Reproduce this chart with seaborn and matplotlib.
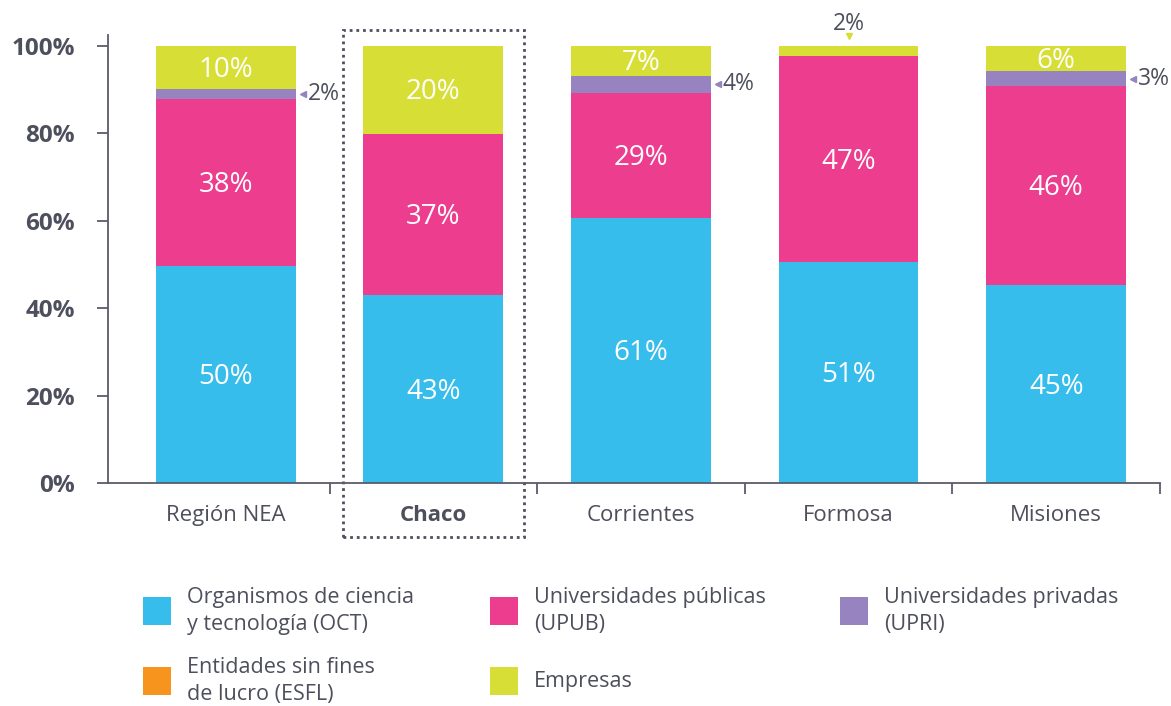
import matplotlib
matplotlib.use("Agg")
import matplotlib.pyplot as plt
from matplotlib.patches import Rectangle
import seaborn as sns
import numpy as np

# ---- data ----
regions = ["Región NEA", "Chaco", "Corrientes", "Formosa", "Misiones"]
series_names = ["Organismos de ciencia\ny tecnología (OCT)",
                "Universidades públicas\n(UPUB)",
                "Universidades privadas\n(UPRI)",
                "Entidades sin fines\nde lucro (ESFL)",
                "Empresas"]
oct_vals = [49.6, 43.0, 60.6, 50.6, 45.2]
upub_vals = [38.3, 36.9, 28.6, 47.0, 45.6]
upri_vals = [2.2, 0.0, 4.0, 0.0, 3.4]
esfl_vals = [0.0, 0.0, 0.0, 0.0, 0.0]
emp_vals = [9.9, 20.1, 6.8, 2.4, 5.8]
yticks = [0, 20, 40, 60, 80, 100]

colors = ["#37BDEC", "#EC3D8E", "#9683C0", "#F7941E", "#D7DF36"]
TXT = "#4D4F5C"
SPINE = "#5B5C68"

sns.set_theme(style="white")
plt.rcParams["font.family"] = ["Open Sans", "DejaVu Sans"]

W, H = 1171, 706
fig = plt.figure(figsize=(W / 100, H / 100), dpi=100)
ax = fig.add_axes([108 / W, 1 - 483 / H, (1160 - 108) / W, (483 - 35) / H])

series = [oct_vals, upub_vals, upri_vals, esfl_vals, emp_vals]
data = np.array(series)
cum = np.cumsum(data, axis=0)
bw = 0.673

# draw cumulative bars from top to bottom
for k in range(len(series) - 1, -1, -1):
    sns.barplot(x=regions, y=cum[k], color=colors[k], saturation=1,
                width=bw, ax=ax, linewidth=0, errorbar=None)

ax.set_xlim(-0.567, 4.5)
ax.set_ylim(0, 102.5)

# inside labels
for k in range(len(series)):
    for i in range(len(regions)):
        v = data[k, i]
        if v >= 5:
            mid = cum[k, i] - v / 2
            ax.text(i, mid - 0.6, f"{v:.0f}%", ha="center", va="center",
                    color="white", fontsize=20)

# outside labels for small UPRI segments
for i in range(len(regions)):
    v = upri_vals[i]
    if v >= 1:
        mid = cum[2, i] - v / 2
        ax.plot(i + bw / 2 + 0.035, mid, marker="<", color=colors[2],
                markersize=5, clip_on=False, linestyle="none")
        ax.text(i + bw / 2 + 0.058, mid, f"{v:.0f}%", ha="left", va="center",
                color=TXT, fontsize=16.5)

# Formosa empresas label above
i = 3
ax.plot(i, 102.3, marker="v", color=colors[4], markersize=5, clip_on=False,
        linestyle="none")
ax.text(i, 105.0, f"{emp_vals[i]:.0f}%", ha="center", va="center",
        color=TXT, fontsize=16.5, clip_on=False)

# axes styling
sns.despine(ax=ax)
for s in ["left", "bottom"]:
    ax.spines[s].set_color(SPINE)
    ax.spines[s].set_linewidth(1.3)
ax.set_yticks(yticks)
ax.set_yticklabels([f"{t}%" for t in yticks])
ax.tick_params(axis="y", length=8, width=1.3, color=SPINE, pad=16,
               labelsize=17.5, labelcolor=TXT, left=True)
for lbl in ax.get_yticklabels():
    lbl.set_fontweight("bold")
ax.set_xticks(range(len(regions)))
ax.set_xticklabels(regions)
ax.tick_params(axis="x", length=0, pad=16, labelsize=16, labelcolor=TXT)
ax.set_xticks([0.5, 1.5, 2.5, 3.5, 4.5], minor=True)
ax.tick_params(axis="x", which="minor", length=8, width=1.3, color=SPINE,
               bottom=True)
ax.get_xticklabels()[1].set_fontweight("bold")
ax.set_xlabel("")
ax.set_ylabel("")

# dotted highlight box around Chaco
ax.add_patch(Rectangle((0.5625, -12.4), 0.875, 116.1, fill=False,
                       edgecolor=TXT, linestyle=(0, (1, 1.4)), linewidth=2,
                       clip_on=False))

# legend (manual layout)
sq = 28
legend_pos = [(143, 597), (490, 597), (840, 597), (143, 667), (490, 667)]
for k, (px, py) in enumerate(legend_pos):
    fig.add_artist(Rectangle((px / W, 1 - (py + sq) / H), sq / W, sq / H,
                             transform=fig.transFigure, color=colors[k],
                             linewidth=0))
    fig.text((px + 44) / W, 1 - (py + sq / 2) / H, series_names[k],
             ha="left", va="center", fontsize=15.5, color=TXT, linespacing=1.35)

fig.savefig("out.png", dpi=100)
